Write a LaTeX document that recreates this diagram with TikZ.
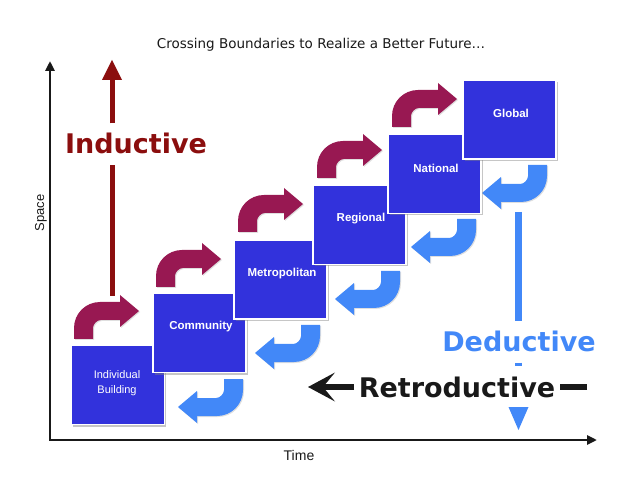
\documentclass[tikz,border=0pt]{standalone}
\usepackage{fontspec}
\newfontfamily\dejavu{DejaVu Sans}
\newfontfamily\libsans{Liberation Sans}
\usetikzlibrary{arrows.meta,shadows}
\definecolor{boxblue}{RGB}{50,50,220}
\definecolor{upred}{RGB}{152,24,82}
\definecolor{downblue}{RGB}{66,136,248}
\definecolor{indred}{RGB}{139,14,14}
\definecolor{inkblack}{RGB}{25,25,25}
\newcommand\turnshape[3]{%
  \fill[#1, shift={(#2)}, rotate=#3,
        drop shadow={opacity=0.25, shadow xshift=1pt, shadow yshift=-1pt}]
    (4,-8) -- (4,-19) .. controls (4,-33.4) and (15.6,-45) .. (30,-45)
    -- (50,-45) -- (50,-52) -- (69,-36) -- (50,-20) -- (50,-27) -- (31,-27)
    .. controls (26.6,-27) and (23,-22.6) .. (23,-19) -- (23,-8) -- cycle;}
\begin{document}
\begin{tikzpicture}[x=1pt,y=-1pt,
  stagebox/.style={draw=white, line width=1.5pt, fill=boxblue,
    minimum width=93pt, minimum height=79pt, inner sep=0pt,
    drop shadow={opacity=0.45, shadow xshift=1.5pt, shadow yshift=-2pt}},
  stagelabel/.style={text=white, inner sep=0pt, font=\libsans\bfseries\fontsize{11.5}{14}\selectfont},
  bigword/.style={inner xsep=4.5pt, inner ysep=10pt, anchor=base, font=\dejavu\bfseries\fontsize{27}{32}\selectfont},
  axisline/.style={inkblack, line width=2.5pt, line join=miter,
    {Triangle[length=10pt,width=9pt]}-{Triangle[length=10pt,width=9pt]}},
  indline/.style={indred, line width=5pt},
  dedline/.style={downblue, line width=6.5pt},
  retline/.style={inkblack, line width=6.5pt},
  axislabel/.style={inkblack, font=\libsans\fontsize{13}{15}\selectfont}
]
\useasboundingbox (0,0) rectangle (640,494);

% title
\node[font=\dejavu\fontsize{13.5}{16}\selectfont, text=inkblack] (title) at (321,45)
  {Crossing Boundaries to Realize a Better Future…};

% axes
\coordinate (origin) at (50,440);
\coordinate (ytip) at (50,61);
\coordinate (xtip) at (597,440);
\draw[axisline] (ytip) -- (origin) -- (xtip);
\node[axislabel, rotate=90] (space) at (41,213) {Space};
\node[axislabel, font=\libsans\fontsize{14}{16}\selectfont] (time) at (299,455) {Time};

% turning arrows
\turnshape{upred}{70,347}{0}
\turnshape{upred}{152,295}{0}
\turnshape{upred}{234,240}{0}
\turnshape{upred}{313,186}{0}
\turnshape{upred}{388,135}{0}
\turnshape{downblue}{247,371}{180}
\turnshape{downblue}{324,317}{180}
\turnshape{downblue}{404,263}{180}
\turnshape{downblue}{480,211}{180}
\turnshape{downblue}{551,157}{180}

% stage boxes
\node[stagebox] (b1) at (118,385) {};
\node[stagebox] (b2) at (199.5,333) {};
\node[stagebox] (b3) at (280.5,279.5) {};
\node[stagebox] (b4) at (359.5,225) {};
\node[stagebox] (b5) at (434.5,174) {};
\node[stagebox] (b6) at (509.5,119.5) {};
\node[text=white, align=center, inner sep=0pt, font=\libsans\fontsize{11}{15}\selectfont]
  (l1) at (117,383) {Individual\\Building};
\node[stagelabel] (l2) at ([shift={(1.5,-6)}]b2.center) {Community};
\node[stagelabel] (l3) at ([shift={(1.5,-6)}]b3.center) {Metropolitan};
\node[stagelabel] (l4) at ([shift={(1.5,-6)}]b4.center) {Regional};
\node[stagelabel] (l5) at ([shift={(1.5,-6)}]b5.center) {National};
\node[stagelabel] (l6) at ([shift={(1.5,-6)}]b6.center) {Global};

% Inductive
\node[bigword, text=indred] (ind) at (136,154) {Inductive};
\coordinate (indbot) at (112,296);
\coordinate (indtop) at (112,60);
\draw[indline] (indbot) -- (indbot |- ind.south);
\draw[indline, -{Triangle[length=20pt,width=20pt,line width=0pt]}] (indbot |- ind.north) -- (indtop);

% Deductive
\node[bigword, text=downblue] (ded) at (519,352) {Deductive};
\node[bigword, text=inkblack] (ret) at (457,397) {Retroductive};
\coordinate (dedtop) at (518.5,212);
\coordinate (dedtip) at (518.5,430);
\draw[dedline] (dedtop) -- (dedtop |- ded.north);
\draw[dedline] (dedtop |- ded.south) -- (dedtop |- ret.north);
\draw[dedline, -{Triangle[length=23pt,width=20pt,line width=0pt]}] (dedtop |- ret.south) -- (dedtip);

% Retroductive
\coordinate (retright) at (587,387);
\coordinate (rettip) at (308,387);
\draw[retline] (retright) -- (ret.east |- retright);
\draw[retline, -{Stealth[length=27pt,width=29pt,inset=12pt,line width=0pt]}] (ret.west |- retright) -- (rettip);
\end{tikzpicture}
\end{document}
